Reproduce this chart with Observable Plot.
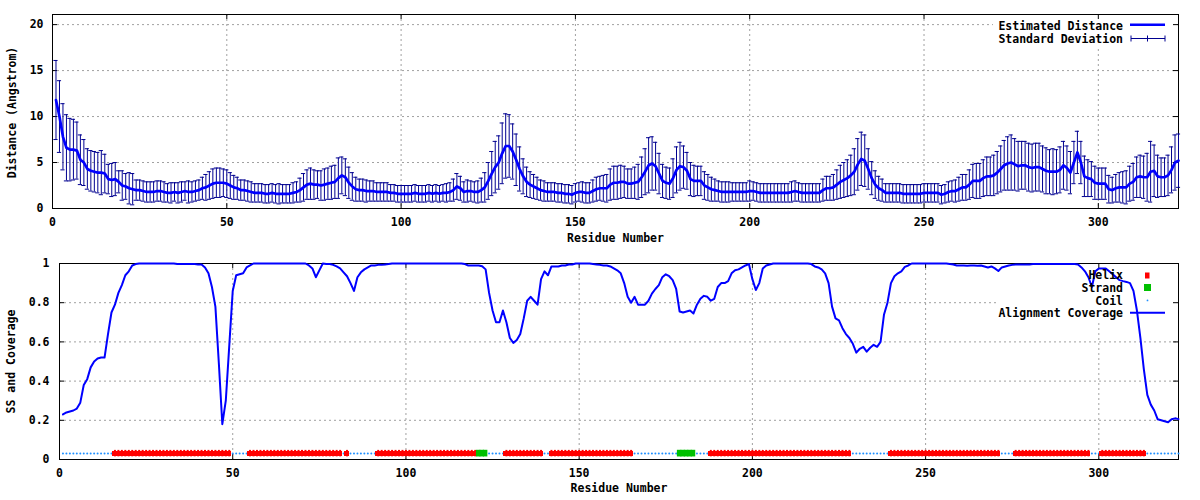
<!DOCTYPE html>
<html><head><meta charset="utf-8">
<script src="https://cdn.jsdelivr.net/npm/d3@7"></script>
<script src="https://cdn.jsdelivr.net/npm/@observablehq/plot@0.6"></script>
<style>
body{margin:0;background:#fff;}
#chart{width:1200px;height:500px;}
#chart svg{display:block;}
</style></head><body><div id="chart"></div>
<script>
// ---------- data (residues 1..323) ----------
const distance = [
11.8,10.0,7.8,6.6,6.4,6.4,6.3,5.3,5.0,4.3,
4.1,4.0,3.9,3.9,3.8,3.2,3.1,3.2,2.9,2.5,
2.4,2.2,2.1,2.0,2.0,1.9,1.8,1.8,1.8,1.9,
1.9,1.8,1.7,1.7,1.8,1.7,1.8,1.9,1.8,1.8,
1.9,2.0,2.2,2.3,2.5,2.7,2.8,2.8,2.8,2.7,
2.5,2.3,2.2,2.0,2.0,1.9,1.8,1.7,1.7,1.7,
1.6,1.6,1.7,1.6,1.6,1.6,1.6,1.6,1.7,1.8,
2.0,2.3,2.6,2.7,2.6,2.6,2.5,2.6,2.7,2.8,
2.9,3.3,3.6,3.4,2.8,2.4,2.1,2.0,2.0,1.9,
1.9,1.9,1.8,1.8,1.8,1.8,1.7,1.7,1.6,1.6,
1.6,1.6,1.6,1.7,1.6,1.6,1.6,1.7,1.6,1.7,
1.6,1.7,1.7,1.8,2.0,2.4,2.2,1.8,1.9,1.9,
1.8,1.8,2.0,2.3,3.0,3.8,4.5,5.0,6.0,6.8,
6.8,6.2,5.3,4.3,3.5,2.9,2.6,2.4,2.2,2.0,
1.9,1.8,1.8,1.8,1.7,1.7,1.6,1.6,1.5,1.7,
1.8,1.8,1.7,1.7,1.9,2.1,2.2,2.2,2.2,2.6,
2.8,2.8,2.9,2.9,2.7,2.7,2.8,2.9,3.4,4.0,
4.7,4.9,4.6,3.8,3.0,2.8,2.7,3.3,4.2,4.6,
4.5,4.1,3.2,3.0,3.0,3.0,2.5,2.3,2.1,2.0,
1.9,1.8,1.8,1.8,1.8,1.8,1.8,1.8,1.8,1.9,
1.9,1.8,1.7,1.7,1.7,1.7,1.7,1.7,1.7,1.7,
1.7,1.8,1.9,1.8,1.7,1.7,1.7,1.7,1.7,1.7,
2.0,2.2,2.2,2.3,2.6,2.9,3.1,3.3,3.6,4.0,
4.8,5.4,5.2,4.3,3.3,2.6,2.2,2.0,1.7,1.7,
1.7,1.7,1.7,1.6,1.6,1.6,1.6,1.6,1.6,1.7,
1.7,1.7,1.7,1.7,1.5,1.6,1.8,1.9,1.9,2.1,
2.3,2.3,2.6,3.0,3.0,3.0,3.3,3.5,3.5,3.6,
3.9,4.3,4.7,4.9,5.0,4.8,4.6,4.7,4.7,4.5,
4.4,4.5,4.5,4.3,4.1,4.0,4.0,4.0,4.2,4.7,
4.4,3.9,5.0,6.1,5.0,3.5,3.3,3.2,2.8,2.7,
2.7,2.7,2.1,2.0,2.2,2.3,2.3,2.3,2.7,2.9,
3.4,3.5,3.4,3.4,4.0,4.1,3.5,3.4,3.4,3.6,
4.2,5.0,5.2];

const stdDev = [
4.3,3.9,3.6,3.6,3.4,3.3,3.1,2.7,2.5,2.2,
2.2,2.2,2.2,2.4,2.1,1.6,1.8,1.8,1.2,1.6,
1.4,1.7,1.7,1.1,1.1,1.1,1.1,1.1,1.1,1.1,
1.1,1.1,1.0,1.1,1.0,1.1,1.1,1.0,1.2,1.1,
1.1,1.1,1.2,1.4,1.5,1.6,1.6,1.6,1.5,1.5,
1.4,1.3,1.2,1.1,1.1,1.1,1.1,1.0,1.0,1.0,
1.0,1.0,1.0,1.0,1.1,1.0,1.0,1.0,1.1,1.1,
1.3,1.5,1.6,1.7,1.6,1.5,1.6,1.7,1.7,1.8,
1.8,2.2,2.0,2.0,1.7,1.5,1.3,1.2,1.2,1.2,
1.1,1.1,1.0,1.0,1.0,1.0,0.9,0.9,0.9,0.9,
0.9,0.9,0.9,0.9,0.9,0.9,0.9,0.9,0.9,0.9,
0.9,0.9,1.0,1.0,1.2,1.4,1.3,1.1,1.2,1.1,
1.1,1.2,1.3,1.6,2.0,2.4,2.8,2.9,3.3,3.5,
3.4,3.0,2.8,2.4,1.9,1.6,1.4,1.3,1.2,1.1,
1.1,1.0,1.0,1.0,1.0,1.0,1.0,1.0,1.0,1.0,
1.0,1.1,1.1,1.1,1.2,1.3,1.3,1.4,1.5,1.7,
1.8,1.8,1.8,1.7,1.6,1.6,1.7,1.9,2.2,2.5,
3.0,2.9,2.6,2.2,1.8,1.7,1.7,2.1,2.5,2.6,
2.3,2.0,1.8,1.7,1.6,1.6,1.5,1.4,1.3,1.2,
1.1,1.1,1.1,1.1,1.0,1.0,1.0,1.0,1.0,1.1,
1.0,1.0,1.0,1.0,1.0,1.0,1.0,1.0,1.0,1.0,
1.0,1.1,1.1,1.0,1.0,1.0,1.0,1.0,1.0,1.0,
1.2,1.3,1.3,1.4,1.6,1.8,1.9,2.0,2.2,2.5,
2.8,2.9,2.8,2.2,1.8,1.5,1.3,1.2,1.0,1.0,
1.0,1.0,1.0,1.0,1.0,1.0,1.0,1.0,1.0,1.0,
1.0,1.0,1.0,1.0,1.0,1.0,1.1,1.1,1.2,1.3,
1.4,1.4,1.6,1.8,1.9,1.9,2.0,2.1,2.1,2.2,
2.3,2.5,2.7,2.9,3.0,2.8,2.7,2.6,2.6,2.6,
2.6,2.6,2.6,2.5,2.5,2.4,2.5,2.4,2.5,2.6,
2.4,2.3,2.3,2.3,2.3,2.2,2.0,1.9,1.8,1.7,
1.7,1.7,1.5,1.4,1.5,1.6,1.7,1.8,1.9,2.0,
2.2,2.3,2.3,2.6,3.3,2.8,2.3,2.1,2.1,2.2,
2.5,3.0,2.9];

const coverage = [
0.23,0.24,0.245,0.25,0.26,0.29,0.38,0.41,0.47,0.50,
0.515,0.52,0.52,0.64,0.75,0.79,0.85,0.89,0.94,0.96,
0.99,0.997,1,1,1,1,1,1,1,1,
1,1,1,0.997,0.997,0.997,0.997,0.997,0.997,0.995,
0.995,0.98,0.95,0.88,0.78,0.49,0.18,0.30,0.58,0.86,
0.94,0.945,0.95,0.98,0.99,1,1,1,1,1,
1,1,1,1,1,1,1,1,1,1,
1,0.99,0.975,0.93,0.965,1,0.997,0.997,0.993,0.985,
0.975,0.955,0.935,0.9,0.86,0.93,0.955,0.97,0.98,0.99,
0.99,0.993,0.993,0.995,0.997,1,1,1,1,1,
1,1,1,1,1,1,1,1,1,1,
1,1,1,1,1,1,0.997,0.99,0.99,0.99,
0.99,0.986,0.97,0.85,0.76,0.70,0.70,0.76,0.70,0.62,
0.595,0.61,0.64,0.72,0.81,0.83,0.81,0.79,0.92,0.96,
0.94,0.985,0.985,0.985,0.99,0.99,0.995,0.995,1,1,
1,1,1,0.997,0.995,0.993,0.99,0.99,0.985,0.975,
0.965,0.95,0.9,0.83,0.80,0.83,0.79,0.79,0.79,0.81,
0.846,0.87,0.89,0.93,0.945,0.935,0.915,0.87,0.755,0.75,
0.755,0.76,0.745,0.79,0.82,0.835,0.83,0.81,0.82,0.88,
0.9,0.9,0.91,0.95,0.966,0.97,0.98,0.99,0.997,0.92,
0.865,0.9,0.975,0.99,0.995,1,1,1,1,1,
1,1,1,1,1,1,0.997,0.985,0.98,0.97,
0.95,0.9,0.78,0.72,0.71,0.67,0.64,0.62,0.59,0.545,
0.565,0.575,0.55,0.57,0.585,0.575,0.60,0.74,0.80,0.90,
0.935,0.95,0.96,0.983,0.99,1,1,1,1,1,
1,1,1,1,1,1,0.997,0.995,0.99,0.99,
0.99,0.988,0.99,0.99,0.988,0.99,0.985,0.98,0.985,0.975,
0.962,0.98,0.985,0.99,0.993,0.995,0.995,0.995,0.995,0.995,
0.997,0.997,0.997,0.997,0.997,0.997,0.997,0.997,0.997,0.997,
0.997,0.997,0.997,0.995,0.98,0.96,0.93,0.88,0.96,0.975,
0.975,0.975,0.96,0.945,0.93,0.915,0.91,0.906,0.9,0.86,
0.76,0.62,0.46,0.33,0.28,0.25,0.205,0.2,0.195,0.19,
0.205,0.21,0.206];

const helixStart  = [16, 55, 83, 92, 129, 142, 188, 240, 276, 301];
const helixEnd    = [49, 81, 83, 120, 139, 165, 228, 271, 297, 313];
const strandStart = [121, 179];
const strandEnd   = [123, 183];

const xTicks = [0, 50, 100, 150, 200, 250, 300];
const yTicksTop = [0, 5, 10, 15, 20];
const yTicksBottom = [0, 0.2, 0.4, 0.6, 0.8, 1];

const topLegend = ["Estimated Distance", "Standard Deviation"];
const bottomLegend = ["Helix", "Strand", "Coil", "Alignment Coverage"];

// ---------- build table ----------
const nRes = distance.length;
const inRanges = (r, s, e) => s.some((v, i) => r >= v && r <= e[i]);
const rows = distance.map((d, i) => {
  const r = i + 1;
  const ss = inRanges(r, strandStart, strandEnd) ? "Strand" : inRanges(r, helixStart, helixEnd) ? "Helix" : "Coil";
  return {r, d, s: stdDev[i], c: coverage[i], ss};
});
const helixRows = rows.filter(d => d.ss === "Helix");
const strandRows = rows.filter(d => d.ss === "Strand");
const coilRows = rows.filter(d => d.ss === "Coil");

// ---------- styles ----------
const W = 1200, H = 250;
const FONT = "'DejaVu Sans Mono', 'Liberation Mono', monospace";
const GRID = {stroke: "#a0a0a0", strokeOpacity: 1, strokeDasharray: "2,3", strokeWidth: 1};
const NAVY = "#000090", BLUE = "#0000ff", RED = "#ff0000", GREEN = "#00c000", COIL = "#2090ff";
const TICK = 5;

const NS = "http://www.w3.org/2000/svg";
function el(tag, attrs, text) {
  const e = document.createElementNS(NS, tag);
  for (const k in attrs) e.setAttribute(k, attrs[k]);
  if (text != null) e.textContent = text;
  return e;
}
function group(children) { const g = el("g", {}); children.forEach(c => g.appendChild(c)); return g; }
function ltext(x, y, s) { return el("text", {x, y, "text-anchor": "end", dy: "0.35em", fill: "black"}, s); }

// ---------- top panel ----------
const mT = {top: 14, bottom: 42, left: 52, right: 22};
const innerWT = W - mT.left - mT.right, innerHT = H - mT.top - mT.bottom;
const keyXT = 1123;

const topPlot = Plot.plot({
  width: W, height: H,
  marginTop: mT.top, marginBottom: mT.bottom, marginLeft: mT.left, marginRight: mT.right,
  style: {fontFamily: FONT, fontSize: "11.5px", fontWeight: "bold", background: "white", color: "black", overflow: "visible"},
  x: {domain: [0, nRes], ticks: xTicks, tickSize: 0, tickPadding: 9, label: null, tickFormat: d => String(d)},
  y: {domain: [0, 21.1], ticks: yTicksTop, tickSize: 0, tickPadding: 9, label: null, tickFormat: d => String(d)},
  marks: [
    Plot.ruleX(xTicks.slice(1), GRID),
    Plot.ruleY(yTicksTop.slice(1), GRID),
    () => el("rect", {x: 993, y: mT.top + 1, width: W - mT.right - 1 - 993, height: 32, fill: "white"}),
    Plot.frame({stroke: "black", strokeWidth: 1}),
    Plot.ruleX(xTicks, {stroke: "black", insetTop: innerHT - TICK}),
    Plot.ruleX(xTicks, {stroke: "black", insetBottom: innerHT - TICK}),
    Plot.ruleY(yTicksTop, {stroke: "black", insetRight: innerWT - TICK}),
    Plot.ruleY(yTicksTop, {stroke: "black", insetLeft: innerWT - TICK}),
    Plot.ruleX(rows, {x: "r", y1: d => d.d - d.s, y2: d => d.d + d.s, stroke: NAVY, strokeWidth: 1}),
    Plot.ruleY(rows, {y: d => d.d + d.s, x1: d => d.r - 0.6, x2: d => d.r + 0.6, stroke: NAVY, strokeWidth: 1}),
    Plot.ruleY(rows, {y: d => d.d - d.s, x1: d => d.r - 0.6, x2: d => d.r + 0.6, stroke: NAVY, strokeWidth: 1}),
    Plot.line(rows, {x: "r", y: "d", stroke: BLUE, strokeWidth: 2.7}),
    Plot.text(["Residue Number"], {text: d => d, frameAnchor: "bottom", dy: 33, textAnchor: "middle"}),
    Plot.text(["Distance (Angstrom)"], {text: d => d, frameAnchor: "left", rotate: -90, dx: -40, dy: 1, textAnchor: "middle"}),
    () => group([
      ltext(keyXT, 25.5, topLegend[0]),
      el("line", {x1: 1130, x2: 1165, y1: 24.7, y2: 24.7, stroke: BLUE, "stroke-width": 2.5}),
      ltext(keyXT, 38.7, topLegend[1]),
      el("line", {x1: 1131, x2: 1165, y1: 38.5, y2: 38.5, stroke: NAVY, "stroke-width": 1}),
      el("line", {x1: 1131, x2: 1131, y1: 35.5, y2: 41.5, stroke: NAVY, "stroke-width": 1}),
      el("line", {x1: 1165, x2: 1165, y1: 35.5, y2: 41.5, stroke: NAVY, "stroke-width": 1}),
      el("line", {x1: 1147.5, x2: 1147.5, y1: 35.5, y2: 41.5, stroke: NAVY, "stroke-width": 1})
    ])
  ]
});

// ---------- bottom panel ----------
const mB = {top: 13, bottom: 41, left: 59, right: 22};
const innerWB = W - mB.left - mB.right, innerHB = H - mB.top - mB.bottom;
const ssY = 0.03;

const bottomPlot = Plot.plot({
  width: W, height: H,
  marginTop: mB.top, marginBottom: mB.bottom, marginLeft: mB.left, marginRight: mB.right,
  style: {fontFamily: FONT, fontSize: "11.5px", fontWeight: "bold", background: "white", color: "black", overflow: "visible"},
  x: {domain: [0, nRes], ticks: xTicks, tickSize: 0, tickPadding: 9, label: null, tickFormat: d => String(d)},
  y: {domain: [0, 1], ticks: yTicksBottom, tickSize: 0, tickPadding: 10, label: null, tickFormat: d3.format("~g")},
  marks: [
    Plot.ruleX(xTicks.slice(1), GRID),
    Plot.ruleY(yTicksBottom.slice(1, -1), GRID),
    () => el("rect", {x: 998, y: mB.top + 1, width: W - mB.right - 1 - 998, height: 56, fill: "white"}),
    Plot.frame({stroke: "black", strokeWidth: 1}),
    Plot.ruleX(xTicks, {stroke: "black", insetTop: innerHB - TICK}),
    Plot.ruleX(xTicks, {stroke: "black", insetBottom: innerHB - TICK}),
    Plot.ruleY(yTicksBottom, {stroke: "black", insetRight: innerWB - TICK}),
    Plot.ruleY(yTicksBottom, {stroke: "black", insetLeft: innerWB - TICK}),
    Plot.dot(coilRows, {x: "r", y: () => ssY, r: 1, fill: COIL, stroke: null}),
    Plot.rect(helixRows, {x1: d => d.r - 0.7, x2: d => d.r + 0.7, y1: ssY - 0.0128, y2: ssY + 0.0128, fill: RED, shapeRendering: "crispEdges"}),
    Plot.ruleX(helixRows, {x: "r", y1: ssY - 0.0165, y2: ssY + 0.0165, stroke: RED, strokeWidth: 2}),
    Plot.rect(strandRows, {x1: d => d.r - 0.65, x2: d => d.r + 0.65, y1: ssY - 0.017, y2: ssY + 0.017, fill: GREEN}),
    Plot.line(rows, {x: "r", y: "c", stroke: BLUE, strokeWidth: 2}),
    Plot.text(["Residue Number"], {text: d => d, frameAnchor: "bottom", dy: 32.5, textAnchor: "middle"}),
    Plot.text(["SS and Coverage"], {text: d => d, frameAnchor: "left", rotate: -90, dx: -48, textAnchor: "middle"}),
    () => group([
      ltext(keyXT, 25.3, bottomLegend[0]),
      el("rect", {x: 1145, y: 22.5, width: 4.5, height: 6, fill: RED}),
      ltext(keyXT, 38, bottomLegend[1]),
      el("rect", {x: 1144, y: 34, width: 7, height: 7, fill: GREEN}),
      ltext(keyXT, 50.7, bottomLegend[2]),
      el("circle", {cx: 1147.5, cy: 50.4, r: 0.9, fill: COIL}),
      ltext(keyXT, 63.4, bottomLegend[3]),
      el("line", {x1: 1130, x2: 1165, y1: 62.7, y2: 62.7, stroke: BLUE, "stroke-width": 2})
    ])
  ]
});

const chart = document.getElementById("chart");
chart.appendChild(topPlot);
chart.appendChild(bottomPlot);
</script>
</body></html>
